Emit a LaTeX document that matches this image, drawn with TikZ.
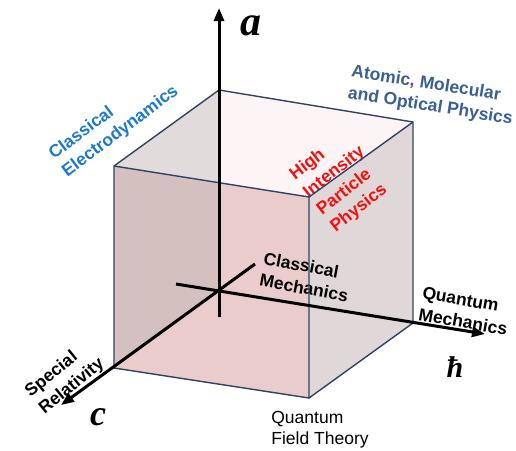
\documentclass[tikz,border=0pt]{standalone}
\usepackage{fontspec}
\setmainfont{Liberation Sans}
\newfontfamily\tnr{Liberation Serif}
\usetikzlibrary{arrows.meta}
\definecolor{edgecol}{HTML}{2F4266}
\definecolor{frontcol}{HTML}{EBCCCC}
\definecolor{topcol}{HTML}{FDF5F5}
\definecolor{rightcol}{HTML}{E0D8D8}
\definecolor{shadecol}{HTML}{A7A7A7}
\definecolor{cedblue}{HTML}{1E7AC8}
\definecolor{amoblue}{HTML}{3A5F96}
\definecolor{hired}{HTML}{F51010}
\tikzset{
  lbl/.style={font=\fontsize{17.5}{22}\selectfont\bfseries, align=left, inner sep=0pt},
  lblreg/.style={font=\fontsize{17.5}{21}\selectfont, align=left, inner sep=0pt},
  axislbl/.style={inner sep=0pt, anchor=base},
  axisline/.style={line width=3pt, -{Triangle[length=13pt,width=10pt]}},
  cubeedge/.style={draw=edgecol, line width=1.4pt, line join=round}
}
\begin{document}
\begin{tikzpicture}[x=1pt,y=-1pt]
\useasboundingbox (0,0) rectangle (516,450);
% cube corners
\coordinate (B1) at (219,90);
\coordinate (B2) at (413,122);
\coordinate (B3) at (413,323);
\coordinate (O)  at (219,291);
\coordinate (F1) at (114,166);
\coordinate (F2) at (309,197);
\coordinate (F3) at (309,398);
\coordinate (F4) at (114,368);
% faces
\fill[frontcol] (F1) -- (F2) -- (F3) -- (F4) -- cycle;
\fill[topcol] (F1) -- (B1) -- (B2) -- (F2) -- cycle;
\fill[rightcol] (F2) -- (B2) -- (B3) -- (F3) -- cycle;
\fill[shadecol, fill opacity=0.32] (F1) -- (B1) -- (O) -- (F4) -- cycle;
% labels
\node[lbl, text=cedblue, rotate=37] (ced) at (114,123) {Classical\\Electrodynamics};
\node[lbl, text=amoblue, rotate=-9] (amo) at (432,96) {Atomic, Molecular\\and Optical Physics};
\node[lbl, text=hired, rotate=38] (hipp) at (341,181) {High\\Intensity\\Particle\\Physics};
\node[lbl, rotate=-10.5] (cm) at (306,277) {Classical\\Mechanics};
\node[lbl, rotate=-10] (qm) at (465,311) {Quantum\\Mechanics};
\node[lbl, rotate=39] (sr) at (65,378) {Special\\Relativity};
\node[lblreg] (qft) at (320,430) {Quantum\\Field Theory};
% edges
\draw[cubeedge] (F1) -- (B1) -- (B2) -- (B3) -- (F3) -- (F4) -- cycle;
\draw[cubeedge] (F1) -- (F2) -- (F3);
\draw[cubeedge] (F2) -- (B2);
% axes
\coordinate (aBot) at (219,317);
\coordinate (aTop) at (219,8);
\coordinate (hStart) at (176,284);
\coordinate (hEnd) at (485,334);
\coordinate (cStart) at (255,264);
\coordinate (cEnd) at (61,405);
\draw[axisline] (aBot) -- (aTop);
\draw[axisline] (hStart) -- (hEnd);
\draw[axisline] (cStart) -- (cEnd);
% axis labels
\node[axislbl, font=\fontsize{42}{42}\selectfont\tnr\bfseries\itshape] (la) at (251,35) {a};
\node[axislbl, font=\fontsize{36}{36}\selectfont\tnr\bfseries\itshape] (lc) at (98,425) {c};
\node[axislbl, font=\fontsize{30}{30}\selectfont\tnr\bfseries\itshape] (lh) at (455,377) {ħ};
\end{tikzpicture}
\end{document}
